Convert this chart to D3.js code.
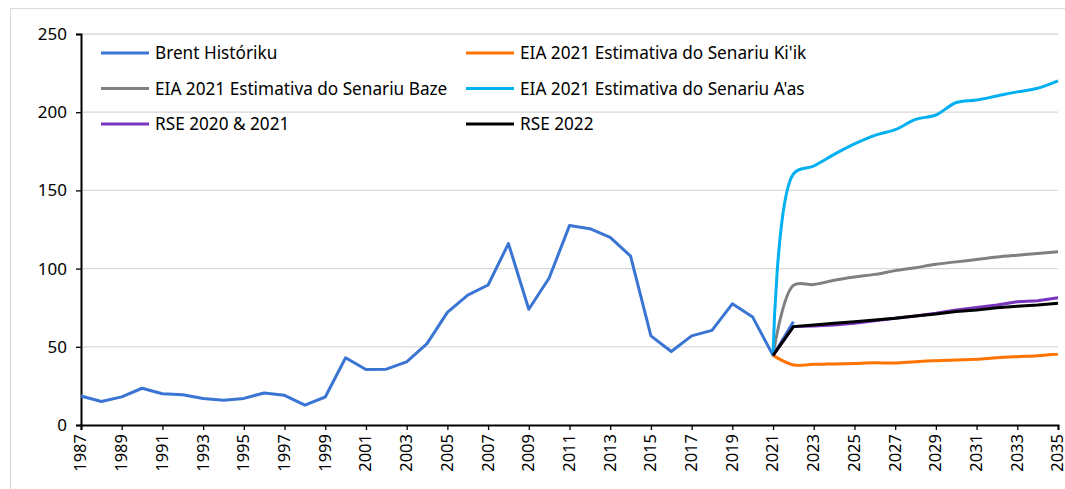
<!DOCTYPE html>
<html>
<head>
<meta charset="utf-8">
<script src="https://cdn.jsdelivr.net/npm/d3@7"></script>
<style>
  body { margin: 0; background: #fff; }
  svg text { font-family: "Noto Sans", "DejaVu Sans", sans-serif; fill: #000; }
</style>
</head>
<body>
<div id="chart"></div>
<script>
// Brent historical (USD/barrel), 1987-2022
const histYears = d3.range(1987, 2023);
const brent = [18.5, 15, 18, 23.5, 20, 19.3, 17, 15.8, 17, 20.5,
  19, 12.7, 17.9, 43, 35.5, 35.7, 40.4, 52, 72, 83,
  89.5, 116, 74, 94, 127.5, 125.5, 120, 108, 57, 47,
  57, 60.5, 77.5, 69, 44.5, 66];

// forecasts 2021-2035
const fcYears = d3.range(2021, 2036);
const eiaLow = [44.5, 38.4, 38.8, 39, 39.4, 39.8, 39.6, 40.5, 41.1, 41.6, 42, 43, 43.7, 44.3, 45.4];
const eiaBase = [44.5, 89.3, 89.8, 92.5, 94.6, 96.3, 98.7, 100.6, 102.8, 104.3, 105.8, 107.4, 108.6, 109.7, 110.8];
const eiaHigh = [44.5, 160.5, 165.6, 173, 179.7, 185.2, 188.8, 195.4, 198.2, 206.2, 207.8, 210.4, 213, 215.3, 220];
const rse2020 = [44.5, 62.9, 63.3, 64, 65, 66.7, 68.2, 69.7, 71.4, 73.5, 75.2, 76.7, 78.8, 79.5, 81.4];
const rse2022 = [44.5, 62.9, 64, 65, 66, 67.1, 68.2, 69.7, 71, 72.5, 73.5, 75, 76, 76.7, 77.8];

const seriesNames = ["Brent Históriku", "EIA 2021 Estimativa do Senariu Ki'ik",
  "EIA 2021 Estimativa do Senariu Baze", "EIA 2021 Estimativa do Senariu A'as",
  "RSE 2020 & 2021", "RSE 2022"];
const seriesColors = ["#3A75D4", "#FF7300", "#808080", "#00B0F0", "#7A35BD", "#000000"];
const yTicks = [0, 50, 100, 150, 200, 250];
const xTicks = d3.range(1987, 2036, 2);

const W = 1065, H = 489;
const margin = { top: 34, right: 7, bottom: 64, left: 81 };

const svg = d3.select('#chart').append('svg')
  .attr('width', W).attr('height', H);

// chart frame
svg.append('rect')
  .attr('x', 10.5).attr('y', 8.5)
  .attr('width', 1070).attr('height', 500)
  .attr('fill', 'none').attr('stroke', '#D9D9D9');

const x = d3.scaleLinear().domain([1987, 2035]).range([margin.left, W - margin.right]);
const y = d3.scaleLinear().domain([0, 250]).range([H - margin.bottom, margin.top]);

// gridlines
svg.append('g').selectAll('line')
  .data(yTicks.filter(d => d > 0))
  .join('line')
  .attr('x1', x(1987)).attr('x2', x(2035))
  .attr('y1', d => y(d)).attr('y2', d => y(d))
  .attr('stroke', '#D9D9D9').attr('stroke-width', 1.3);

// y axis
const yAxis = svg.append('g')
  .attr('transform', `translate(${x(1987)},0)`)
  .call(d3.axisLeft(y).tickValues(yTicks).tickSize(5).tickPadding(9));
yAxis.select('.domain').attr('stroke', '#000').attr('stroke-width', 2);
yAxis.selectAll('.tick line').attr('stroke', '#000').attr('stroke-width', 1.3);
yAxis.selectAll('text').style('font-size', '17px').attr('fill', '#000');

// x axis
const xAxis = svg.append('g')
  .attr('transform', `translate(0,${y(0)})`)
  .call(d3.axisBottom(x).tickValues(xTicks).tickFormat(d3.format('d')).tickSize(5));
xAxis.select('.domain').attr('stroke', '#000').attr('stroke-width', 2);
xAxis.selectAll('.tick line').attr('stroke', '#000').attr('stroke-width', 1.3);
xAxis.selectAll('text')
  .style('font-size', '16.5px')
  .attr('fill', '#000')
  .attr('text-anchor', 'end')
  .attr('dy', '0.3em')
  .attr('transform', 'rotate(-90)')
  .attr('x', -9).attr('y', 0);

const straight = d3.line().x(d => x(d[0])).y(d => y(d[1]));
const smooth = d3.line().x(d => x(d[0])).y(d => y(d[1])).curve(d3.curveCatmullRom.alpha(0.5));

const allSeries = [
  histYears.map((yr, i) => [yr, brent[i]]),
  fcYears.map((yr, i) => [yr, eiaLow[i]]),
  fcYears.map((yr, i) => [yr, eiaBase[i]]),
  fcYears.map((yr, i) => [yr, eiaHigh[i]]),
  fcYears.map((yr, i) => [yr, rse2020[i]]),
  fcYears.map((yr, i) => [yr, rse2022[i]])
];
// EIA scenarios are drawn as smoothed lines
const isSmooth = [false, true, true, true, false, false];

svg.append('g').selectAll('path')
  .data(allSeries)
  .join('path')
  .attr('d', (d, i) => isSmooth[i] ? smooth(d) : straight(d))
  .attr('fill', 'none')
  .attr('stroke', (d, i) => seriesColors[i])
  .attr('stroke-width', 3)
  .attr('stroke-linejoin', 'round');

// legend, two columns
const legend = svg.append('g');
const legItems = legend.selectAll('g')
  .data(seriesNames)
  .join('g')
  .attr('transform', (d, i) => `translate(${i % 2 === 0 ? 101 : 466},${53 + Math.floor(i / 2) * 35.5})`);

legItems.append('line')
  .attr('x1', 0).attr('x2', 48)
  .attr('stroke', (d, i) => seriesColors[i])
  .attr('stroke-width', 3);

legItems.append('text')
  .attr('x', 54)
  .attr('dy', '0.35em')
  .style('font-size', '17.2px')
  .text(d => d);
</script>
</body>
</html>
